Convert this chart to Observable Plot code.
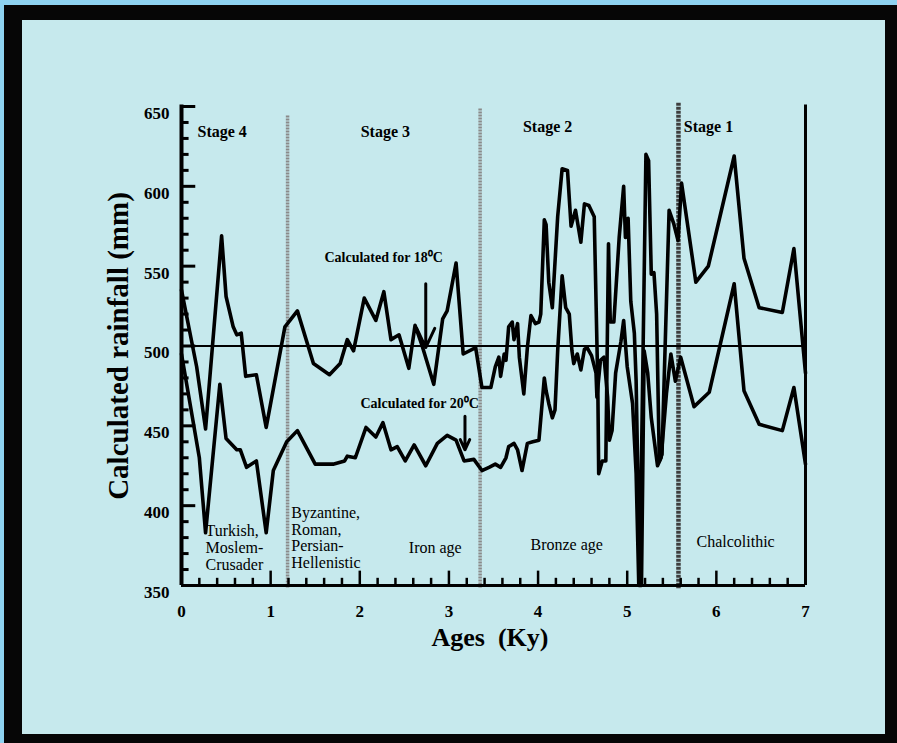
<!DOCTYPE html>
<html><head><meta charset="utf-8">
<script src="https://cdn.jsdelivr.net/npm/d3@7"></script>
<script src="https://cdn.jsdelivr.net/npm/@observablehq/plot@0.6"></script>
<style>
html,body{margin:0;padding:0;width:897px;height:743px;overflow:hidden;background:#8ed2f0;}
#frame{position:absolute;left:4px;top:5px;width:893px;height:738px;background:#060606;}
#panel{position:absolute;left:22px;top:20px;width:863px;height:714px;background:#c6e9ed;}
#chart{position:absolute;left:0;top:0;}
</style></head><body>
<div id="frame"></div><div id="panel"></div><div id="chart"></div>
<script>
// Calculated for 18 °C
const ages18 = [0, 0.17, 0.27, 0.45, 0.50, 0.58, 0.62, 0.67, 0.72, 0.84, 0.95, 1.16, 1.30, 1.48, 1.66, 1.78, 1.86, 1.93, 2.05, 2.18, 2.27, 2.35, 2.44, 2.55, 2.62, 2.70, 2.83, 2.93, 2.98, 3.08, 3.16, 3.30, 3.37, 3.43, 3.47, 3.52, 3.56, 3.58, 3.62, 3.64, 3.67, 3.71, 3.73, 3.77, 3.79, 3.84, 3.88, 3.92, 3.97, 4.01, 4.03, 4.07, 4.09, 4.12, 4.16, 4.22, 4.27, 4.33, 4.37, 4.42, 4.48, 4.52, 4.57, 4.63, 4.67, 4.68, 4.72, 4.76, 4.79, 4.81, 4.85, 4.91, 4.96, 4.98, 5.01, 5.04, 5.08, 5.10, 5.14, 5.21, 5.24, 5.27, 5.30, 5.33, 5.36, 5.39, 5.47, 5.52, 5.57, 5.61, 5.77, 5.91, 6.20, 6.31, 6.48, 6.74, 6.87, 7.00];
const rain18 = [535, 487, 448, 569, 531, 512, 507, 508, 481, 482, 449, 512, 522, 489, 482, 489, 504, 497, 530, 516, 534, 504, 507, 486, 513, 500, 476, 517, 522, 552, 495, 499, 474, 474, 474, 487, 493, 481, 495, 491, 512, 515, 504, 514, 493, 470, 499, 519, 514, 515, 520, 579, 576, 540, 524, 581, 611, 610, 575, 585, 565, 589, 588, 581, 476, 420, 428, 428, 564, 515, 515, 568, 600, 568, 580, 528, 508, 478, 352, 620, 616, 545, 546, 520, 428, 432, 585, 577, 566, 602, 540, 550, 619, 555, 524, 521, 561, 483];
// Calculated for 20 °C
const ages20 = [0, 0.20, 0.27, 0.43, 0.50, 0.62, 0.66, 0.73, 0.84, 0.95, 1.03, 1.18, 1.30, 1.50, 1.70, 1.83, 1.86, 1.95, 2.07, 2.18, 2.26, 2.35, 2.42, 2.51, 2.61, 2.74, 2.87, 2.98, 3.08, 3.17, 3.28, 3.37, 3.45, 3.52, 3.58, 3.64, 3.67, 3.73, 3.77, 3.82, 3.88, 3.94, 4.01, 4.07, 4.09, 4.12, 4.16, 4.19, 4.22, 4.27, 4.31, 4.35, 4.38, 4.40, 4.44, 4.48, 4.52, 4.55, 4.60, 4.65, 4.66, 4.70, 4.74, 4.78, 4.80, 4.83, 4.87, 4.93, 4.96, 5.00, 5.06, 5.10, 5.13, 5.16, 5.19, 5.23, 5.27, 5.34, 5.38, 5.44, 5.49, 5.54, 5.60, 5.75, 5.92, 6.20, 6.31, 6.48, 6.74, 6.87, 7.00];
const rain20 = [495, 430, 383, 476, 442, 435, 435, 424, 428, 383, 422, 440, 447, 426, 426, 428, 431, 430, 449, 443, 452, 435, 437, 428, 438, 425, 439, 444, 441, 428, 429, 422, 424, 426, 424, 430, 437, 439, 435, 422, 439, 440, 441, 480, 472, 464, 455, 460, 497, 544, 524, 520, 497, 489, 495, 485, 498, 499, 494, 483, 468, 491, 493, 468, 441, 447, 483, 503, 516, 487, 464, 420, 350, 350, 497, 483, 455, 425, 430, 470, 495, 478, 493, 462, 471, 539, 472, 451, 447, 474, 426];

const reference = 500;
const stageBounds = [1.19, 3.35, 5.575];
const stageNames = ["Stage 4", "Stage 3", "Stage 2", "Stage 1"];
const stageNameAt = [[0.18, 630.8], [2.01, 630.8], [3.83, 633.9], [5.635, 633.9]];
const eraNames = ["Turkish,\nMoslem-\nCrusader", "Byzantine,\nRoman,\nPersian-\nHellenistic", "Iron age", "Bronze age", "Chalcolithic"];
const eraAt = [[0.269, 359.9], [1.231, 361.1], [2.55, 370.3], [3.915, 372], [5.777, 374]];
const yTickLabels = [350, 400, 450, 500, 550, 600, 650];
const xTickLabels = [0, 1, 2, 3, 4, 5, 6, 7];

const s18 = ages18.map((a, i) => ({age: a, rain: rain18[i]}));
const s20 = ages20.map((a, i) => ({age: a, rain: rain20[i]}));
const yMinor = d3.range(360, 650, 10).filter(v => v % 50 !== 0);
const xMinor = d3.range(1, 35).map(i => i / 5).filter(v => Math.abs(v - Math.round(v)) > 1e-6);
const stages = stageNames.map((n, i) => ({name: n, x: stageNameAt[i][0], y: stageNameAt[i][1]}));
const eras = eraNames.map((n, i) => ({name: n, x: eraAt[i][0], y: eraAt[i][1]}));
const serif = "'Liberation Serif','Times New Roman',serif";

const chart = Plot.plot({
  width: 897, height: 743,
  marginLeft: 181, marginRight: 92, marginTop: 106, marginBottom: 158,
  x: {domain: [0, 7], axis: null},
  y: {domain: [350, 650], axis: null},
  style: {background: "transparent", fontFamily: serif, color: "#000", overflow: "visible"},
  marks: [
    // stage dividers
    Plot.ruleX([stageBounds[0]], {x: d => d, y1: 644, y2: 348.5, stroke: "#8a8a8a", strokeWidth: 3.5, strokeDasharray: "2,1"}),
    Plot.ruleX([stageBounds[1]], {x: d => d, y1: 648.5, y2: 348.5, stroke: "#8a8a8a", strokeWidth: 3.5, strokeDasharray: "2,1"}),
    Plot.ruleX([stageBounds[2]], {x: d => d, y1: 652, y2: 348, stroke: "#3e3e3e", strokeWidth: 4.5, strokeDasharray: "3,1"}),
    // reference line
    Plot.ruleY([reference], {x1: 0, x2: 7, stroke: "#000", strokeWidth: 2}),
    // axes
    Plot.ruleX([0], {y1: 350, y2: 651, stroke: "#000", strokeWidth: 4}),
    Plot.ruleX([7], {y1: 350, y2: 651, stroke: "#000", strokeWidth: 3}),
    Plot.ruleY([350], {x1: 0, x2: 7, stroke: "#000", strokeWidth: 3}),
    Plot.ruleY(yTickLabels, {x1: 0, x2: 0.16, stroke: "#000", strokeWidth: 3}),
    Plot.ruleY(yMinor, {x1: 0, x2: 0.085, stroke: "#000", strokeWidth: 3}),
    Plot.ruleX(xTickLabels.slice(1, -1), {y1: 350, y2: 359, stroke: "#000", strokeWidth: 2.5}),
    Plot.ruleX(xMinor, {y1: 350, y2: 354.5, stroke: "#000", strokeWidth: 2.5}),
    // series
    Plot.line(s20, {x: "age", y: "rain", stroke: "#000", strokeWidth: 3.6, strokeLinejoin: "round"}),
    Plot.line(s18, {x: "age", y: "rain", stroke: "#000", strokeWidth: 3.6, strokeLinejoin: "round"}),
    // tick labels
    Plot.text(yTickLabels, {x: 0, y: d => d, text: d => String(d), textAnchor: "end", dx: -12, dy: 7, fontSize: 17, fontWeight: "bold"}),
    Plot.text(xTickLabels, {x: d => d, y: 350, text: d => String(d), dy: 26, fontSize: 17, fontWeight: "bold"}),
    // axis titles
    Plot.text(["Calculated rainfall (mm)"], {x: -0.707, y: 500, text: d => d, rotate: -90, fontSize: 29, fontWeight: "bold"}),
    Plot.text(["Ages\u00a0 (Ky)"], {x: 3.46, y: 350, text: d => d, dy: 52, fontSize: 26, fontWeight: "bold"}),
    // stage labels
    Plot.text(stages, {x: "x", y: "y", text: "name", textAnchor: "start", lineAnchor: "bottom", fontSize: 16, fontWeight: "bold"}),
    // era labels
    Plot.text(eras, {x: "x", y: "y", text: "name", textAnchor: "start", lineAnchor: "bottom", fontSize: 16, lineHeight: 1.04}),
    // annotations
    Plot.text(["Calculated for 18\u2070C"], {x: 1.604, y: 552.5, text: d => d, textAnchor: "start", lineAnchor: "bottom", fontSize: 14, fontWeight: "bold"}),
    Plot.text(["Calculated for 20\u2070C"], {x: 2.008, y: 460.9, text: d => d, textAnchor: "start", lineAnchor: "bottom", fontSize: 14, fontWeight: "bold"}),
    Plot.arrow([0], {x1: 2.74, y1: 539, x2: 2.74, y2: 499, stroke: "#000", strokeWidth: 3, headLength: 11, headAngle: 50}),
    Plot.arrow([0], {x1: 3.18, y1: 456, x2: 3.18, y2: 435, stroke: "#000", strokeWidth: 3, headLength: 11, headAngle: 50})
  ]
});
document.getElementById("chart").appendChild(chart);
</script></body></html>
